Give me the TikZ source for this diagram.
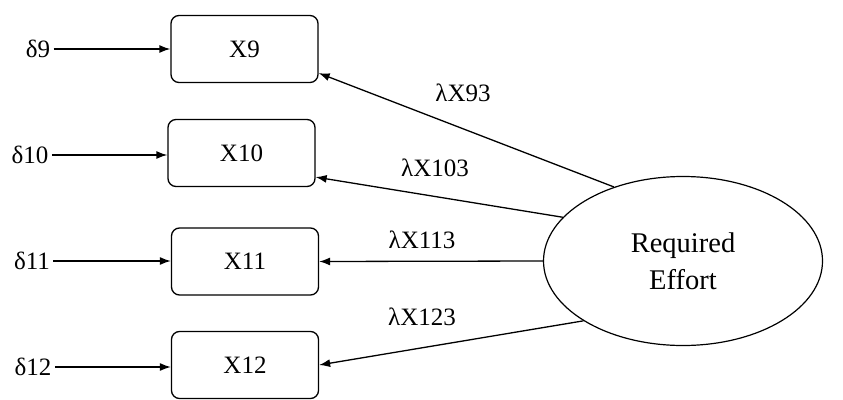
\documentclass[tikz,border=0pt]{standalone}
\usepackage{fontspec}
\setmainfont{Liberation Serif}
\usepackage{tikz}
\usetikzlibrary{positioning,shapes.geometric,arrows.meta,calc}

\begin{document}
\begin{tikzpicture}[
x=1pt,y=-1pt,
font=\fontsize{25}{30}\selectfont,
itembox/.style={
  draw,
  rounded corners=8pt,
  line width=1.3pt,
  minimum width=147pt,
  minimum height=67pt},
factor/.style={
  draw,
  ellipse,
  line width=1.2pt,
  minimum width=279pt,
  minimum height=169pt,
  font=\fontsize{28.5}{37}\selectfont,
  align=center},
load/.style={
  line width=1.3pt,
  -{Latex[length=11pt,width=8pt]}}
]
\useasboundingbox (0,0) rectangle (843,399);
% observed items
\node[itembox] (X9)  at (244.5,49)  {X9};
\node[itembox] (X10) at (241.5,153) {X10};
\node[itembox] (X11) at (245,261.5) {X11};
\node[itembox] (X12) at (245,365)   {X12};
% error terms
\node (d9)  at (38,49)   {δ9};
\node (d10) at (30,155)  {δ10};
\node (d11) at (32,261)  {δ11};
\node (d12) at (33,367)  {δ12};
\foreach \Err/\Item in {d9/X9,d10/X10,d11/X11,d12/X12}
  \draw[load] (\Err.east) -- (\Item.west |- \Err.east);
% latent factor
\node[factor] (F) at (683,261) {Required\\Effort};
\draw[load] (F.133) -- (X9.-18);
\draw[load] (F.160) -- (X10.-18);
\draw[load] (F.west) -- (X11.east);
\draw[load] (F.211) -- (X12.east);
% loadings
\node (l9)  at (463,93)  {λX93};
\node (l10) at (435,168) {λX103};
\node (l11) at (422,240) {λX113};
\node (l12) at (422,317) {λX123};
\end{tikzpicture}
\end{document}
